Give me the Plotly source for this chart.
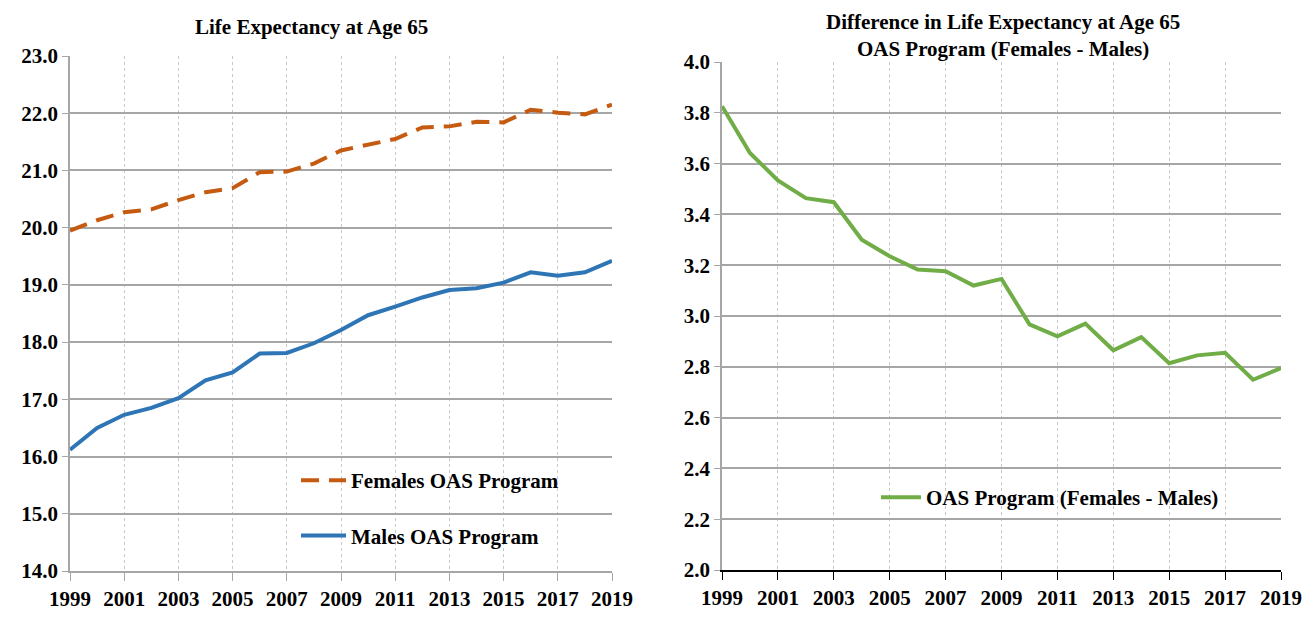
import plotly.graph_objects as go

years = list(range(1999, 2020))
females = [19.95, 20.13, 20.27, 20.32, 20.48, 20.62, 20.69, 20.97, 20.98, 21.12, 21.35,
           21.45, 21.55, 21.75, 21.77, 21.85, 21.84, 22.06, 22.01, 21.98, 22.15]
males = [16.12, 16.50, 16.73, 16.85, 17.02, 17.33, 17.47, 17.80, 17.81, 17.98, 18.21,
         18.47, 18.62, 18.78, 18.91, 18.94, 19.04, 19.22, 19.16, 19.22, 19.42]
difference = [3.826, 3.642, 3.534, 3.464, 3.448, 3.300, 3.235, 3.183, 3.176, 3.120, 3.146,
              2.967, 2.920, 2.970, 2.865, 2.917, 2.814, 2.845, 2.855, 2.749, 2.795]
year_ticks = list(range(1999, 2020, 2))
left_ticks = [14, 15, 16, 17, 18, 19, 20, 21, 22, 23]
right_ticks = [2.0, 2.2, 2.4, 2.6, 2.8, 3.0, 3.2, 3.4, 3.6, 3.8, 4.0]

# page body has an 8px margin; figure sized to fit the 1315x625 window
OFF = 8
FW, FH = 1315 - OFF, 625 - OFF


def px(x):
    return (x - OFF) / FW


def py(y):
    return 1 - (y - OFF) / FH


FONT = "Liberation Serif"
ORANGE = "#C55A11"
BLUE = "#2E75B6"
GREEN = "#70AD47"

fig = go.Figure()
fig.add_trace(go.Scatter(x=years, y=females, mode="lines", name="Females OAS Program",
                         line=dict(color=ORANGE, width=4, dash="18px,10px"),
                         xaxis="x", yaxis="y", legend="legend", legendgroup="f"))
fig.add_trace(go.Scatter(x=years, y=males, mode="lines", name="Males OAS Program",
                         line=dict(color=BLUE, width=4),
                         xaxis="x", yaxis="y", legend="legend", legendgroup="m"))
fig.add_trace(go.Scatter(x=years, y=difference, mode="lines", name="OAS Program (Females - Males)",
                         line=dict(color=GREEN, width=4),
                         xaxis="x2", yaxis="y2", legend="legend2"))

tickfont = dict(family=FONT, size=21, color="black", weight="bold")


def xax(domain, anchor, linecolor):
    return dict(domain=domain, anchor=anchor, range=[1999, 2019], tickvals=year_ticks,
                showgrid=True, gridcolor="#C8C8C8", griddash="dot", gridwidth=1,
                showline=True, linecolor=linecolor, linewidth=1.5,
                ticks="outside", ticklen=8, tickcolor=linecolor, tickwidth=1,
                tickfont=tickfont, zeroline=False, fixedrange=True, automargin=False)


def yax(domain, anchor, rng, tickvals):
    return dict(domain=domain, anchor=anchor, range=rng, tickvals=tickvals, tickformat=".1f",
                showgrid=True, gridcolor="#A6A6A6", gridwidth=1.5,
                showline=True, linecolor="#A6A6A6", linewidth=1.5,
                ticks="outside", ticklen=6, tickcolor="#A6A6A6",
                tickfont=tickfont, zeroline=False, fixedrange=True, automargin=False)


fig.update_layout(
    width=FW, height=FH,
    margin=dict(l=0, r=0, t=0, b=0, autoexpand=False),
    paper_bgcolor="white", plot_bgcolor="white",
    font=dict(family=FONT, color="black"),
    xaxis=xax([px(70), px(612)], "y", "#A6A6A6"),
    yaxis=yax([py(571), py(56)], "x", [14, 23], left_ticks),
    xaxis2=xax([px(722), px(1281)], "y2", "black"),
    yaxis2=yax([py(570), py(62)], "x2", [2, 4], right_ticks),
    legend=dict(x=px(296), y=py(460), xanchor="left", yanchor="top",
                bgcolor="rgba(0,0,0,0)", itemwidth=45, tracegroupgap=25,
                font=dict(family=FONT, size=21, color="black", weight="bold")),
    legend2=dict(x=px(876), y=py(477), xanchor="left", yanchor="top",
                 bgcolor="rgba(0,0,0,0)", itemwidth=40,
                 font=dict(family=FONT, size=21, color="black", weight="bold")),
    annotations=[
        dict(text="<b>Life Expectancy at Age 65</b>", x=px(311), y=py(27),
             xref="paper", yref="paper", xanchor="center", yanchor="middle", showarrow=False,
             font=dict(family=FONT, size=21, color="black")),
        dict(text="<b>Difference in Life Expectancy at Age 65<br>OAS Program (Females - Males)</b>",
             x=px(1003), y=1, xref="paper", yref="paper", xanchor="center",
             yanchor="top", showarrow=False,
             font=dict(family=FONT, size=21, color="black")),
    ],
)

fig.write_html("out.html")
